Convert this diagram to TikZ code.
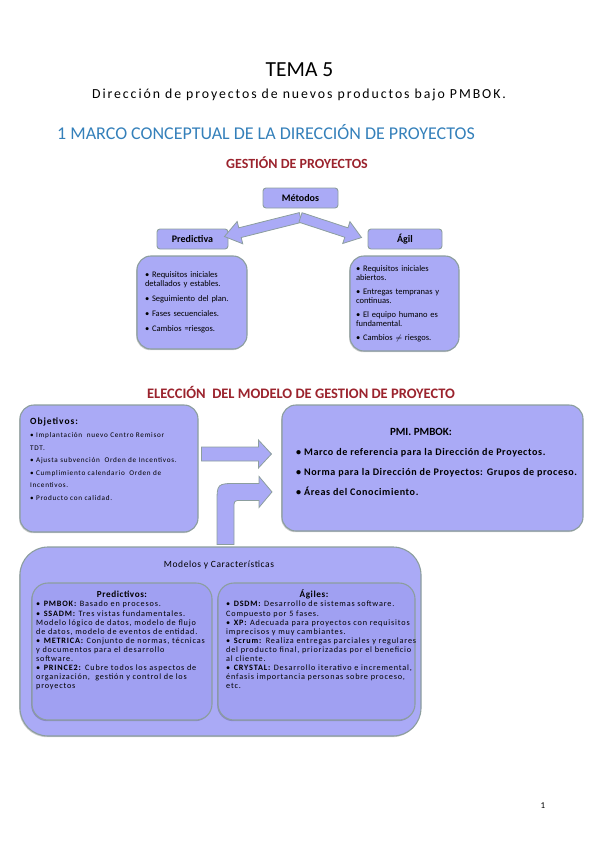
\documentclass[tikz,border=0pt]{standalone}
\usepackage{fontspec}
\setmainfont{Carlito}
\newfontfamily\subfont[LetterSpace=14]{Carlito}
\newfontfamily\listfont[LetterSpace=6]{Carlito}
\newfontfamily\modfont[LetterSpace=10]{Carlito}
\usetikzlibrary{calc,shadows}

\definecolor{boxfill}{RGB}{170,170,246}
\definecolor{innerfill}{RGB}{160,160,242}
\definecolor{boxline}{RGB}{140,158,158}
\definecolor{headred}{RGB}{155,35,45}
\definecolor{secblue}{RGB}{52,128,186}

\tikzset{
  panel/.style={draw=boxline, line width=1.1pt, fill=boxfill, rounded corners=14pt,
    drop shadow={shadow xshift=-0.8pt, shadow yshift=-1.2pt, fill=black, opacity=0.2}},
  tag/.style={draw=boxline, line width=0.9pt, fill=boxfill, rounded corners=3pt,
    minimum height=20pt, inner sep=0pt, font=\bfseries\fontsize{10}{12}\selectfont},
  redtitle/.style={text=headred, font=\bfseries\fontsize{14}{16}\selectfont},
  bigarrow/.style={draw=boxline, line width=0.8pt, fill=boxfill},
}

% block arrow: start, end, half shaft, half head, head length
\newcommand{\blockarrow}[5]{%
  \coordinate (ba-h) at ($(#2)!#5!(#1)$);
  \filldraw[bigarrow]
    ($(#1)!#3!90:(#2)$) -- ($(ba-h)!#3!-90:(#1)$) -- ($(ba-h)!#4!-90:(#1)$) -- (#2)
    -- ($(ba-h)!#4!90:(#1)$) -- ($(ba-h)!#3!90:(#1)$) -- ($(#1)!#3!-90:(#2)$) -- cycle;
}

\begin{document}
\begin{tikzpicture}[x=1pt,y=-1pt]
  \useasboundingbox (0,0) rectangle (600,848);

  % page headings
  \node (tema) at (299.5,70) {\fontsize{21.5}{24}\selectfont TEMA 5};
  \node (subtitulo) at (299,95) {\subfont\fontsize{13.8}{15}\selectfont Dirección de proyectos de nuevos productos bajo PMBOK.};
  \node[anchor=west, text=secblue, inner sep=0pt] (seccion) at (57,132)
    {\fontsize{18}{20}\selectfont 1 MARCO CONCEPTUAL DE LA DIRECCIÓN DE PROYECTOS};

  % gestion de proyectos
  \node[redtitle] (gestion) at (297,163) {GESTIÓN DE PROYECTOS};
  \node[tag, minimum width=75pt] (metodos) at (300.5,198) {Métodos};
  \node[tag, minimum width=71pt] (predictiva) at (192.5,239) {Predictiva};
  \node[tag, minimum width=74pt] (agil) at (405,239) {Ágil};

  \node[panel, minimum width=110pt, minimum height=93pt, text width=94pt, align=left,
    font=\fontsize{8.5}{9}\selectfont] (predlista) at (192,302.5)
    {• Requisitos iniciales\\detallados y estables.\\[6pt]• Seguimiento del plan.\\[6pt]
     • Fases secuenciales.\\[6pt]• Cambios =riesgos.};
  \node[panel, minimum width=109pt, minimum height=95pt, text width=97pt, align=left,
    font=\fontsize{8.5}{9}\selectfont] (agillista) at (404.5,303.5)
    {• Requisitos iniciales\\abiertos.\\[5pt]• Entregas tempranas y\\continuas.\\[5pt]
     • El equipo humano es\\fundamental.\\[5pt]• Cambios $\neq$ riesgos.};

  \coordinate (m-pie) at ($(metodos.south)+(0,9)$);
  \coordinate (p-punta) at ($(predictiva.north east)+(-4,8)$);
  \coordinate (a-punta) at ($(agil.north west)+(-6,9)$);
  \blockarrow{m-pie}{p-punta}{5pt}{11.5pt}{16pt}
  \blockarrow{m-pie}{a-punta}{5pt}{11.5pt}{16pt}

  % eleccion del modelo
  \node[redtitle, font=\bfseries\fontsize{14.5}{16}\selectfont] (eleccion) at (301,392)
    {ELECCIÓN\ \ DEL MODELO DE GESTION DE PROYECTO};

  \node[panel, minimum width=178pt, minimum height=127pt] (objetivos) at (109,468.5) {};
  \node[anchor=north west, align=left, inner sep=0pt,
    font=\modfont\fontsize{7.2}{12.6}\selectfont] (objtexto) at (30,418)
    {{\bfseries\fontsize{9.5}{12.6}\selectfont Objetivos:}\\
     • Implantación\ \ nuevo Centro Remisor\\TDT.\\
     • Ajusta subvención\ \ Orden de Incentivos.\\
     • Cumplimiento calendario\ \ Orden de\\Incentivos.\\
     • Producto con calidad.};

  \node[panel, minimum width=301pt, minimum height=126pt] (pmi) at (432.5,468) {};
  \node[font=\bfseries\fontsize{11}{13}\selectfont] (pmititulo) at (421,432) {PMI. PMBOK:};
  \node[anchor=west, align=left, inner sep=0pt,
    font=\bfseries\listfont\fontsize{10.1}{20}\selectfont] (pmitexto) at (296,472)
    {• Marco de referencia para la Dirección de Proyectos.\\
     • Norma para la Dirección de Proyectos: Grupos de proceso.\\
     • Áreas del Conocimiento.};

  \coordinate (o-pie) at ($(objetivos.east)+(3,-14.5)$);
  \coordinate (o-punta) at ($(pmi.west)+(-10,-14)$);
  \blockarrow{o-pie}{o-punta}{7pt}{14pt}{13pt}

  % modelos y caracteristicas
  \node[panel, rounded corners=28pt, minimum width=401pt, minimum height=189pt] (modelos) at (220.5,641.5) {};
  \node[font=\listfont\fontsize{9.5}{11}\selectfont] (modtitulo) at (219,565) {Modelos y Características};
  \node[panel, fill=innerfill, rounded corners=16pt, minimum width=180pt, minimum height=137pt] (predictivos) at (122,651.5) {};
  \node[panel, fill=innerfill, rounded corners=16pt, minimum width=197pt, minimum height=137pt] (agiles) at (316.5,651.5) {};
  \node[font=\bfseries\listfont\fontsize{9.2}{10}\selectfont] (predtitulo) at (122,594) {Predictivos:};
  \node[font=\bfseries\listfont\fontsize{9.2}{10}\selectfont] (agiltitulo) at (314,594) {Ágiles:};

  \node[anchor=north west, align=left, inner sep=0pt,
    font=\modfont\fontsize{8.2}{9.1}\selectfont] (predtexto) at (36,601)
    {• \textbf{PMBOK:} Basado en procesos.\\
     • \textbf{SSADM:} Tres vistas fundamentales.\\
     Modelo lógico\ de datos, modelo de flujo\\
     de datos, modelo de eventos de entidad.\\
     • \textbf{METRICA:}\ Conjunto de normas, técnicas\\
     y documentos para el desarrollo\\
     software.\\
     • \textbf{PRINCE2:} Cubre todos los aspectos de\\
     organización,\ \ gestión y control de los\\
     proyectos};
  \node[anchor=north west, align=left, inner sep=0pt,
    font=\modfont\fontsize{8.2}{9.1}\selectfont] (agiltexto) at (226,601)
    {• \textbf{DSDM:} Desarrollo de sistemas software.\\
     Compuesto por 5 fases.\\
     • \textbf{XP:} Adecuada para proyectos con requisitos\\
     imprecisos y muy cambiantes.\\
     • \textbf{Scrum:} Realiza entregas parciales y regulares\\
     del producto final, priorizadas\ por el beneficio\\
     al cliente.\\
     • \textbf{CRYSTAL:} Desarrollo iterativo e incremental,\\
     énfasis importancia personas sobre proceso,\\
     etc.};

  % bent arrow from the models up to PMBOK
  \coordinate (giro-pie) at ($(modelos.north)+(5,-2)$);
  \begin{scope}[shift={(giro-pie)}]
    \filldraw[bigarrow] (-8.5,0) -- (-8.5,-41) .. controls (-8.5,-61) .. (12,-61)
      -- (33.5,-61) -- (33.5,-68) -- (46.5,-52.5) -- (33.5,-37) -- (33.5,-44)
      -- (16,-44) .. controls (8.5,-44) .. (8.5,-36) -- (8.5,0) -- cycle;
  \end{scope}

  \node[font=\fontsize{9}{10}\selectfont] (pagina) at (543,806) {1};
\end{tikzpicture}
\end{document}
